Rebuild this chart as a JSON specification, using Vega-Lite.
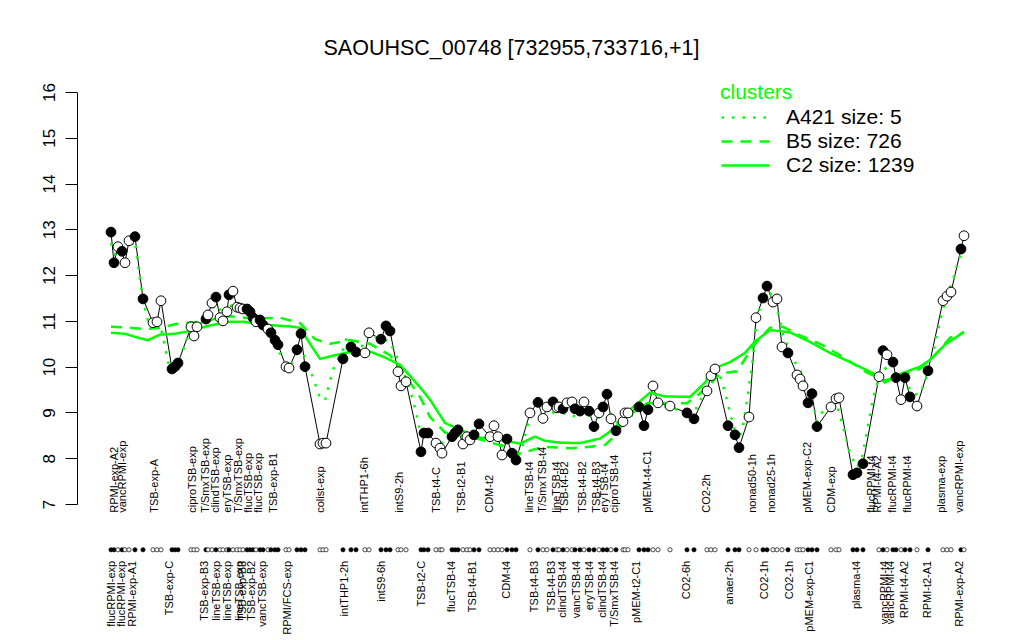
{
"$schema":"https://vega.github.io/schema/vega-lite/v6.json",
"width":921,"height":412,
"autosize":{"type":"none"},
"padding":{"left":77,"top":92,"right":26,"bottom":136},
"background":"white",
"config":{"view":{"stroke":null},"font":"Liberation Sans"},
"title":{"text":"SAOUHSC_00748 [732955,733716,+1]","fontSize":21.5,"fontWeight":"normal","font":"Liberation Sans","color":"black","anchor":"middle","dx":-26,"offset":23},
"datasets":{
"samples":[
{"p":111,"v":12.94,"f":1},{"p":114,"v":12.27,"f":1},{"p":118,"v":12.62,"f":0},{"p":122,"v":12.52,"f":1},{"p":125,"v":12.27,"f":0},{"p":129,"v":12.75,"f":0},{"p":135,"v":12.84,"f":1},{"p":143,"v":11.48,"f":1},
{"p":153,"v":10.96,"f":0},{"p":157,"v":10.98,"f":0},{"p":161,"v":11.44,"f":0},
{"p":172,"v":9.95,"f":1},{"p":175,"v":10.0,"f":1},{"p":178,"v":10.08,"f":1},
{"p":191,"v":10.87,"f":0},{"p":194,"v":10.67,"f":0},{"p":197,"v":10.87,"f":0},
{"p":206,"v":11.04,"f":1},{"p":208,"v":11.13,"f":0},{"p":212,"v":11.39,"f":0},{"p":216,"v":11.52,"f":1},{"p":220,"v":11.07,"f":0},{"p":223,"v":11.0,"f":0},{"p":227,"v":11.2,"f":0},{"p":229,"v":11.57,"f":1},{"p":233,"v":11.65,"f":0},{"p":237,"v":11.3,"f":0},{"p":240,"v":11.28,"f":0},{"p":243,"v":11.26,"f":0},{"p":247,"v":11.26,"f":1},{"p":250,"v":11.2,"f":1},{"p":253,"v":11.07,"f":1},{"p":256,"v":10.98,"f":0},{"p":260,"v":11.02,"f":1},{"p":263,"v":10.91,"f":1},{"p":268,"v":10.82,"f":0},{"p":271,"v":10.74,"f":1},{"p":275,"v":10.58,"f":1},{"p":278,"v":10.48,"f":1},{"p":286,"v":10.0,"f":0},{"p":289,"v":9.97,"f":0},
{"p":297,"v":10.37,"f":1},{"p":301,"v":10.72,"f":1},{"p":305,"v":10.0,"f":1},
{"p":320,"v":8.31,"f":0},{"p":323,"v":8.33,"f":0},{"p":326,"v":8.33,"f":0},
{"p":343,"v":10.17,"f":1},{"p":351,"v":10.43,"f":1},{"p":356,"v":10.32,"f":1},
{"p":365,"v":10.3,"f":0},{"p":369,"v":10.74,"f":0},
{"p":381,"v":10.6,"f":1},{"p":386,"v":10.89,"f":1},{"p":390,"v":10.78,"f":1},
{"p":398,"v":9.89,"f":0},{"p":401,"v":9.58,"f":0},{"p":406,"v":9.67,"f":0},
{"p":421,"v":8.14,"f":1},{"p":424,"v":8.55,"f":1},{"p":428,"v":8.55,"f":1},
{"p":436,"v":8.33,"f":0},{"p":440,"v":8.22,"f":0},{"p":442,"v":8.11,"f":0},
{"p":452,"v":8.47,"f":1},{"p":455,"v":8.55,"f":1},{"p":458,"v":8.62,"f":1},{"p":463,"v":8.31,"f":0},{"p":467,"v":8.47,"f":0},{"p":470,"v":8.4,"f":0},{"p":474,"v":8.51,"f":1},{"p":479,"v":8.75,"f":1},
{"p":490,"v":8.47,"f":0},{"p":494,"v":8.71,"f":0},{"p":498,"v":8.47,"f":0},{"p":502,"v":8.07,"f":0},{"p":507,"v":8.42,"f":1},{"p":512,"v":8.11,"f":1},{"p":516,"v":7.96,"f":1},
{"p":530,"v":8.99,"f":0},{"p":538,"v":9.22,"f":1},{"p":543,"v":8.87,"f":0},{"p":547,"v":9.12,"f":0},{"p":553,"v":9.23,"f":1},{"p":557,"v":9.1,"f":0},{"p":559,"v":9.12,"f":0},{"p":563,"v":9.08,"f":1},{"p":567,"v":9.21,"f":0},{"p":572,"v":9.23,"f":0},{"p":575,"v":9.08,"f":1},{"p":580,"v":9.03,"f":1},{"p":584,"v":9.23,"f":0},{"p":589,"v":9.03,"f":1},{"p":594,"v":8.69,"f":1},{"p":599,"v":8.99,"f":0},{"p":603,"v":9.12,"f":1},{"p":607,"v":9.4,"f":1},{"p":611,"v":8.86,"f":0},{"p":616,"v":8.6,"f":1},{"p":623,"v":8.8,"f":0},{"p":625,"v":8.99,"f":0},{"p":628,"v":8.99,"f":0},
{"p":639,"v":9.12,"f":1},{"p":644,"v":8.71,"f":1},{"p":648,"v":9.06,"f":1},{"p":653,"v":9.58,"f":0},{"p":658,"v":9.21,"f":0},
{"p":670,"v":9.14,"f":0},
{"p":687,"v":8.99,"f":1},{"p":694,"v":8.86,"f":1},
{"p":707,"v":9.47,"f":0},{"p":711,"v":9.8,"f":0},{"p":715,"v":9.95,"f":0},
{"p":728,"v":8.71,"f":1},{"p":735,"v":8.51,"f":1},{"p":739,"v":8.23,"f":1},
{"p":749,"v":8.9,"f":0},{"p":756,"v":11.07,"f":0},{"p":763,"v":11.5,"f":1},{"p":767,"v":11.76,"f":1},{"p":773,"v":11.41,"f":0},{"p":777,"v":11.48,"f":0},{"p":782,"v":10.43,"f":0},{"p":788,"v":10.3,"f":1},
{"p":797,"v":9.82,"f":0},{"p":800,"v":9.73,"f":0},{"p":803,"v":9.58,"f":0},{"p":808,"v":9.21,"f":1},{"p":812,"v":9.41,"f":1},{"p":817,"v":8.69,"f":1},
{"p":831,"v":9.12,"f":0},{"p":836,"v":9.3,"f":0},{"p":839,"v":9.32,"f":0},
{"p":853,"v":7.64,"f":1},{"p":857,"v":7.68,"f":1},{"p":863,"v":7.88,"f":1},
{"p":879,"v":9.78,"f":0},{"p":883,"v":10.35,"f":1},{"p":887,"v":10.26,"f":0},{"p":893,"v":10.1,"f":1},{"p":896,"v":9.76,"f":1},{"p":901,"v":9.28,"f":0},{"p":905,"v":9.76,"f":1},{"p":910,"v":9.34,"f":1},{"p":917,"v":9.14,"f":0},
{"p":928,"v":9.91,"f":1},
{"p":943,"v":11.44,"f":0},{"p":947,"v":11.54,"f":0},{"p":951,"v":11.63,"f":0},
{"p":961,"v":12.57,"f":1},{"p":964,"v":12.86,"f":0}
],
"labels":[
{"p":115,"t":"RPMI-exp-A2","s":"top"},{"p":123,"t":"vancRPMI-exp","s":"top"},{"p":155,"t":"TSB-exp-A","s":"top"},{"p":193,"t":"ciproTSB-exp","s":"top"},{"p":206,"t":"T/SmxTSB-exp","s":"top"},{"p":216,"t":"clindTSB-exp","s":"top"},{"p":228,"t":"eryTSB-exp","s":"top"},{"p":239,"t":"T/SmxTSB-exp","s":"top"},{"p":249,"t":"flucTSB-exp","s":"top"},{"p":259,"t":"flucTSB-exp","s":"top"},{"p":274,"t":"TSB-exp-B1","s":"top"},{"p":321,"t":"colist-exp","s":"top"},{"p":365,"t":"intTHP1-6h","s":"top"},{"p":400,"t":"intS9-2h","s":"top"},{"p":437,"t":"TSB-t4-C","s":"top"},{"p":462,"t":"TSB-t2-B1","s":"top"},{"p":490,"t":"CDM-t2","s":"top"},{"p":530,"t":"lineTSB-t4","s":"top"},{"p":543,"t":"T/SmxTSB-t4","s":"top"},{"p":557,"t":"lineTSB-t4","s":"top"},{"p":565,"t":"TSB-t4-B2","s":"top"},{"p":583,"t":"TSB-t4-B2","s":"top"},{"p":597,"t":"TSB-t4-B3","s":"top"},{"p":605,"t":"eryTSB-t4","s":"top"},{"p":615,"t":"ciproTSB-t4","s":"top"},{"p":648,"t":"pMEM-t4-C1","s":"top"},{"p":707,"t":"CO2-2h","s":"top"},{"p":753,"t":"nonad50-1h","s":"top"},{"p":772,"t":"nonad25-1h","s":"top"},{"p":808,"t":"pMEM-exp-C2","s":"top"},{"p":832,"t":"CDM-exp","s":"top"},{"p":872,"t":"flucRPMI-t4","s":"top"},{"p":878,"t":"RPMI-t4-A2","s":"top"},{"p":893,"t":"flucRPMI-t4","s":"top"},{"p":908,"t":"flucRPMI-t4","s":"top"},{"p":942,"t":"plasma-exp","s":"top"},{"p":960,"t":"vancRPMI-exp","s":"top"},
{"p":112,"t":"flucRPMI-exp","s":"bottom"},{"p":122,"t":"flucRPMI-exp","s":"bottom"},{"p":133,"t":"RPMI-exp-A1","s":"bottom"},{"p":170,"t":"TSB-exp-C","s":"bottom"},{"p":205,"t":"TSB-exp-B3","s":"bottom"},{"p":217,"t":"lineTSB-exp","s":"bottom"},{"p":228,"t":"lineTSB-exp","s":"bottom"},{"p":240,"t":"lineTSB-exp","s":"bottom"},{"p":243,"t":"TSB-exp-B3","s":"bottom"},{"p":252,"t":"TSB-exp-B2","s":"bottom"},{"p":263,"t":"vancTSB-exp","s":"bottom"},{"p":288,"t":"RPMI/FCS-exp","s":"bottom"},{"p":345,"t":"intTHP1-2h","s":"bottom"},{"p":382,"t":"intS9-6h","s":"bottom"},{"p":422,"t":"TSB-t2-C","s":"bottom"},{"p":452,"t":"flucTSB-t4","s":"bottom"},{"p":473,"t":"TSB-t4-B1","s":"bottom"},{"p":507,"t":"CDM-t4","s":"bottom"},{"p":535,"t":"TSB-t4-B3","s":"bottom"},{"p":552,"t":"TSB-t4-B3","s":"bottom"},{"p":563,"t":"clindTSB-t4","s":"bottom"},{"p":577,"t":"vancTSB-t4","s":"bottom"},{"p":590,"t":"eryTSB-t4","s":"bottom"},{"p":603,"t":"clindTSB-t4","s":"bottom"},{"p":615,"t":"T/SmxTSB-t4","s":"bottom"},{"p":637,"t":"pMEM-t2-C1","s":"bottom"},{"p":687,"t":"CO2-6h","s":"bottom"},{"p":730,"t":"anaer-2h","s":"bottom"},{"p":765,"t":"CO2-1h","s":"bottom"},{"p":790,"t":"CO2-1h","s":"bottom"},{"p":810,"t":"pMEM-exp-C1","s":"bottom"},{"p":857,"t":"plasma-t4","s":"bottom"},{"p":885,"t":"vancRPMI-t4","s":"bottom"},{"p":891,"t":"vancRPMI-t4","s":"bottom"},{"p":905,"t":"RPMI-t4-A2","s":"bottom"},{"p":928,"t":"RPMI-t2-A1","s":"bottom"},{"p":960,"t":"RPMI-exp-A2","s":"bottom"}
],
"clusters":[
{"c":"A421 size: 5","p":111,"v":12.7},{"c":"A421 size: 5","p":115,"v":12.45},{"c":"A421 size: 5","p":122,"v":12.55},{"c":"A421 size: 5","p":129,"v":12.6},{"c":"A421 size: 5","p":135,"v":12.75},{"c":"A421 size: 5","p":140,"v":11.9},{"c":"A421 size: 5","p":143,"v":11.45},{"c":"A421 size: 5","p":148,"v":11.0},{"c":"A421 size: 5","p":153,"v":10.95},{"c":"A421 size: 5","p":157,"v":10.95},{"c":"A421 size: 5","p":162,"v":10.75},{"c":"A421 size: 5","p":168,"v":10.1},{"c":"A421 size: 5","p":172,"v":9.95},{"c":"A421 size: 5","p":178,"v":10.05},{"c":"A421 size: 5","p":182,"v":10.3},{"c":"A421 size: 5","p":187,"v":10.6},{"c":"A421 size: 5","p":192,"v":10.8},{"c":"A421 size: 5","p":197,"v":10.85},{"c":"A421 size: 5","p":203,"v":11.0},{"c":"A421 size: 5","p":208,"v":11.1},{"c":"A421 size: 5","p":213,"v":11.3},{"c":"A421 size: 5","p":218,"v":11.35},{"c":"A421 size: 5","p":223,"v":11.1},{"c":"A421 size: 5","p":228,"v":11.3},{"c":"A421 size: 5","p":233,"v":11.35},{"c":"A421 size: 5","p":240,"v":11.25},{"c":"A421 size: 5","p":247,"v":11.2},{"c":"A421 size: 5","p":253,"v":11.05},{"c":"A421 size: 5","p":260,"v":11.0},{"c":"A421 size: 5","p":268,"v":10.85},{"c":"A421 size: 5","p":275,"v":10.6},{"c":"A421 size: 5","p":283,"v":10.1},{"c":"A421 size: 5","p":290,"v":10.0},{"c":"A421 size: 5","p":297,"v":10.3},{"c":"A421 size: 5","p":303,"v":10.3},{"c":"A421 size: 5","p":309,"v":10.0},{"c":"A421 size: 5","p":313,"v":9.76},{"c":"A421 size: 5","p":320,"v":9.32},{"c":"A421 size: 5","p":325,"v":9.26},{"c":"A421 size: 5","p":330,"v":9.69},{"c":"A421 size: 5","p":335,"v":10.06},{"c":"A421 size: 5","p":342,"v":10.3},{"c":"A421 size: 5","p":347,"v":10.65},{"c":"A421 size: 5","p":355,"v":10.5},{"c":"A421 size: 5","p":362,"v":10.45},{"c":"A421 size: 5","p":368,"v":10.7},{"c":"A421 size: 5","p":375,"v":10.65},{"c":"A421 size: 5","p":382,"v":10.6},{"c":"A421 size: 5","p":390,"v":10.55},{"c":"A421 size: 5","p":397,"v":10.2},{"c":"A421 size: 5","p":404,"v":9.85},{"c":"A421 size: 5","p":410,"v":9.5},{"c":"A421 size: 5","p":415,"v":9.1},{"c":"A421 size: 5","p":420,"v":8.6},{"c":"A421 size: 5","p":427,"v":8.45},{"c":"A421 size: 5","p":434,"v":8.35},{"c":"A421 size: 5","p":440,"v":8.3},{"c":"A421 size: 5","p":446,"v":8.4},{"c":"A421 size: 5","p":452,"v":8.55},{"c":"A421 size: 5","p":458,"v":8.55},{"c":"A421 size: 5","p":462,"v":8.5},{"c":"A421 size: 5","p":468,"v":8.45},{"c":"A421 size: 5","p":473,"v":8.45},{"c":"A421 size: 5","p":480,"v":8.55},{"c":"A421 size: 5","p":487,"v":8.45},{"c":"A421 size: 5","p":494,"v":8.5},{"c":"A421 size: 5","p":500,"v":8.3},{"c":"A421 size: 5","p":507,"v":8.25},{"c":"A421 size: 5","p":513,"v":8.1},{"c":"A421 size: 5","p":518,"v":8.05},{"c":"A421 size: 5","p":522,"v":8.2},{"c":"A421 size: 5","p":527,"v":8.7},{"c":"A421 size: 5","p":533,"v":8.95},{"c":"A421 size: 5","p":540,"v":9.0},{"c":"A421 size: 5","p":545,"v":8.8},{"c":"A421 size: 5","p":552,"v":9.0},{"c":"A421 size: 5","p":560,"v":9.0},{"c":"A421 size: 5","p":570,"v":8.95},{"c":"A421 size: 5","p":577,"v":8.9},{"c":"A421 size: 5","p":585,"v":9.05},{"c":"A421 size: 5","p":592,"v":8.85},{"c":"A421 size: 5","p":600,"v":8.9},{"c":"A421 size: 5","p":607,"v":9.1},{"c":"A421 size: 5","p":613,"v":8.9},{"c":"A421 size: 5","p":620,"v":8.7},{"c":"A421 size: 5","p":625,"v":8.85},{"c":"A421 size: 5","p":630,"v":8.9},{"c":"A421 size: 5","p":636,"v":9.0},{"c":"A421 size: 5","p":642,"v":9.1},{"c":"A421 size: 5","p":648,"v":9.2},{"c":"A421 size: 5","p":655,"v":9.3},{"c":"A421 size: 5","p":663,"v":9.15},{"c":"A421 size: 5","p":670,"v":9.1},{"c":"A421 size: 5","p":680,"v":9.05},{"c":"A421 size: 5","p":690,"v":9.05},{"c":"A421 size: 5","p":697,"v":9.1},{"c":"A421 size: 5","p":700,"v":9.2},{"c":"A421 size: 5","p":705,"v":9.65},{"c":"A421 size: 5","p":710,"v":9.9},{"c":"A421 size: 5","p":715,"v":10.05},{"c":"A421 size: 5","p":720,"v":9.8},{"c":"A421 size: 5","p":723,"v":9.6},{"c":"A421 size: 5","p":730,"v":9.0},{"c":"A421 size: 5","p":735,"v":8.6},{"c":"A421 size: 5","p":740,"v":8.5},{"c":"A421 size: 5","p":743,"v":8.7},{"c":"A421 size: 5","p":748,"v":9.4},{"c":"A421 size: 5","p":753,"v":10.2},{"c":"A421 size: 5","p":757,"v":11.1},{"c":"A421 size: 5","p":763,"v":11.45},{"c":"A421 size: 5","p":770,"v":11.6},{"c":"A421 size: 5","p":775,"v":11.45},{"c":"A421 size: 5","p":780,"v":11.0},{"c":"A421 size: 5","p":783,"v":10.7},{"c":"A421 size: 5","p":789,"v":10.4},{"c":"A421 size: 5","p":795,"v":10.1},{"c":"A421 size: 5","p":802,"v":9.85},{"c":"A421 size: 5","p":808,"v":9.5},{"c":"A421 size: 5","p":812,"v":9.3},{"c":"A421 size: 5","p":817,"v":8.8},{"c":"A421 size: 5","p":822,"v":9.0},{"c":"A421 size: 5","p":830,"v":9.1},{"c":"A421 size: 5","p":837,"v":9.15},{"c":"A421 size: 5","p":843,"v":8.7},{"c":"A421 size: 5","p":850,"v":8.1},{"c":"A421 size: 5","p":857,"v":7.8},{"c":"A421 size: 5","p":862,"v":8.0},{"c":"A421 size: 5","p":867,"v":8.6},{"c":"A421 size: 5","p":873,"v":9.3},{"c":"A421 size: 5","p":878,"v":9.7},{"c":"A421 size: 5","p":884,"v":10.0},{"c":"A421 size: 5","p":890,"v":9.85},{"c":"A421 size: 5","p":895,"v":9.8},{"c":"A421 size: 5","p":900,"v":9.75},{"c":"A421 size: 5","p":907,"v":9.6},{"c":"A421 size: 5","p":913,"v":9.4},{"c":"A421 size: 5","p":920,"v":9.4},{"c":"A421 size: 5","p":927,"v":9.8},{"c":"A421 size: 5","p":934,"v":10.4},{"c":"A421 size: 5","p":940,"v":11.0},{"c":"A421 size: 5","p":946,"v":11.5},{"c":"A421 size: 5","p":953,"v":11.9},{"c":"A421 size: 5","p":958,"v":12.3},{"c":"A421 size: 5","p":964,"v":12.6},
{"c":"B5 size: 726","p":111,"v":10.87},{"c":"B5 size: 726","p":130,"v":10.85},{"c":"B5 size: 726","p":145,"v":10.82},{"c":"B5 size: 726","p":160,"v":10.85},{"c":"B5 size: 726","p":180,"v":10.95},{"c":"B5 size: 726","p":200,"v":10.98},{"c":"B5 size: 726","p":230,"v":11.1},{"c":"B5 size: 726","p":255,"v":11.05},{"c":"B5 size: 726","p":280,"v":11.07},{"c":"B5 size: 726","p":300,"v":10.95},{"c":"B5 size: 726","p":315,"v":10.6},{"c":"B5 size: 726","p":330,"v":10.5},{"c":"B5 size: 726","p":350,"v":10.58},{"c":"B5 size: 726","p":370,"v":10.5},{"c":"B5 size: 726","p":390,"v":10.25},{"c":"B5 size: 726","p":400,"v":9.97},{"c":"B5 size: 726","p":420,"v":9.34},{"c":"B5 size: 726","p":430,"v":8.9},{"c":"B5 size: 726","p":445,"v":8.56},{"c":"B5 size: 726","p":470,"v":8.47},{"c":"B5 size: 726","p":490,"v":8.35},{"c":"B5 size: 726","p":505,"v":8.25},{"c":"B5 size: 726","p":520,"v":8.1},{"c":"B5 size: 726","p":543,"v":8.25},{"c":"B5 size: 726","p":570,"v":8.22},{"c":"B5 size: 726","p":590,"v":8.25},{"c":"B5 size: 726","p":605,"v":8.29},{"c":"B5 size: 726","p":613,"v":8.45},{"c":"B5 size: 726","p":630,"v":8.95},{"c":"B5 size: 726","p":647,"v":9.2},{"c":"B5 size: 726","p":670,"v":9.2},{"c":"B5 size: 726","p":687,"v":9.2},{"c":"B5 size: 726","p":705,"v":9.5},{"c":"B5 size: 726","p":720,"v":9.85},{"c":"B5 size: 726","p":737,"v":9.9},{"c":"B5 size: 726","p":755,"v":10.5},{"c":"B5 size: 726","p":770,"v":10.85},{"c":"B5 size: 726","p":783,"v":10.87},{"c":"B5 size: 726","p":798,"v":10.7},{"c":"B5 size: 726","p":820,"v":10.5},{"c":"B5 size: 726","p":840,"v":10.25},{"c":"B5 size: 726","p":867,"v":9.87},{"c":"B5 size: 726","p":885,"v":9.7},{"c":"B5 size: 726","p":900,"v":9.8},{"c":"B5 size: 726","p":920,"v":9.95},{"c":"B5 size: 726","p":935,"v":10.25},{"c":"B5 size: 726","p":950,"v":10.63},{"c":"B5 size: 726","p":964,"v":10.75},
{"c":"C2 size: 1239","p":111,"v":10.74},{"c":"C2 size: 1239","p":125,"v":10.72},{"c":"C2 size: 1239","p":140,"v":10.62},{"c":"C2 size: 1239","p":148,"v":10.58},{"c":"C2 size: 1239","p":160,"v":10.7},{"c":"C2 size: 1239","p":175,"v":10.72},{"c":"C2 size: 1239","p":190,"v":10.78},{"c":"C2 size: 1239","p":210,"v":10.9},{"c":"C2 size: 1239","p":230,"v":10.98},{"c":"C2 size: 1239","p":245,"v":10.98},{"c":"C2 size: 1239","p":260,"v":10.92},{"c":"C2 size: 1239","p":275,"v":10.9},{"c":"C2 size: 1239","p":290,"v":10.88},{"c":"C2 size: 1239","p":300,"v":10.85},{"c":"C2 size: 1239","p":310,"v":10.5},{"c":"C2 size: 1239","p":320,"v":10.17},{"c":"C2 size: 1239","p":335,"v":10.25},{"c":"C2 size: 1239","p":350,"v":10.32},{"c":"C2 size: 1239","p":370,"v":10.33},{"c":"C2 size: 1239","p":385,"v":10.2},{"c":"C2 size: 1239","p":400,"v":10.04},{"c":"C2 size: 1239","p":410,"v":9.8},{"c":"C2 size: 1239","p":420,"v":9.55},{"c":"C2 size: 1239","p":430,"v":9.28},{"c":"C2 size: 1239","p":445,"v":8.77},{"c":"C2 size: 1239","p":460,"v":8.62},{"c":"C2 size: 1239","p":480,"v":8.45},{"c":"C2 size: 1239","p":500,"v":8.4},{"c":"C2 size: 1239","p":520,"v":8.32},{"c":"C2 size: 1239","p":535,"v":8.47},{"c":"C2 size: 1239","p":545,"v":8.38},{"c":"C2 size: 1239","p":560,"v":8.34},{"c":"C2 size: 1239","p":580,"v":8.33},{"c":"C2 size: 1239","p":600,"v":8.43},{"c":"C2 size: 1239","p":615,"v":8.66},{"c":"C2 size: 1239","p":630,"v":9.06},{"c":"C2 size: 1239","p":650,"v":9.43},{"c":"C2 size: 1239","p":665,"v":9.35},{"c":"C2 size: 1239","p":690,"v":9.34},{"c":"C2 size: 1239","p":705,"v":9.65},{"c":"C2 size: 1239","p":715,"v":9.97},{"c":"C2 size: 1239","p":730,"v":10.1},{"c":"C2 size: 1239","p":745,"v":10.3},{"c":"C2 size: 1239","p":755,"v":10.55},{"c":"C2 size: 1239","p":770,"v":10.8},{"c":"C2 size: 1239","p":790,"v":10.75},{"c":"C2 size: 1239","p":810,"v":10.54},{"c":"C2 size: 1239","p":830,"v":10.3},{"c":"C2 size: 1239","p":850,"v":10.1},{"c":"C2 size: 1239","p":870,"v":9.89},{"c":"C2 size: 1239","p":880,"v":9.78},{"c":"C2 size: 1239","p":885,"v":9.65},{"c":"C2 size: 1239","p":900,"v":9.84},{"c":"C2 size: 1239","p":920,"v":10.0},{"c":"C2 size: 1239","p":930,"v":10.15},{"c":"C2 size: 1239","p":945,"v":10.48},{"c":"C2 size: 1239","p":960,"v":10.7},{"c":"C2 size: 1239","p":964,"v":10.76}
]
},
"layer":[
{"data":{"name":"samples"},"mark":{"type":"line","color":"black","strokeWidth":1},
 "encoding":{
  "x":{"field":"p","type":"quantitative","scale":{"domain":[77,998],"nice":false,"zero":false},"axis":null},
  "y":{"field":"v","type":"quantitative","scale":{"domain":[7,16],"nice":false,"zero":false},
   "axis":{"values":[7,8,9,10,11,12,13,14,15,16],"grid":false,"title":null,"domainColor":"black","domainWidth":1,"tickColor":"black","tickWidth":1,"tickSize":12,"labelAngle":270,"labelAlign":"center","labelBaseline":"bottom","labelPadding":7,"labelFontSize":17,"labelColor":"black","labelFont":"Liberation Sans","labelFlush":false,"labelOverlap":false}}}},
{"data":{"name":"clusters"},"mark":{"type":"line","color":"#00ff00","strokeWidth":2.5},
 "encoding":{
  "x":{"field":"p","type":"quantitative"},
  "y":{"field":"v","type":"quantitative"},
  "detail":{"field":"c"},
  "strokeDash":{"field":"c","type":"nominal","scale":{"domain":["A421 size: 5","B5 size: 726","C2 size: 1239"],"range":[[2.5,8],[11,8],[1,0]]},
   "legend":{"orient":"none","legendX":643,"legendY":-10,"title":"clusters","titleColor":"#00ff00","titleFontSize":21,"titleFontWeight":"normal","titleFont":"Liberation Sans","labelFontSize":21,"labelFont":"Liberation Sans","labelColor":"black","symbolType":"stroke","symbolStrokeColor":"#00ff00","symbolStrokeWidth":2.5,"symbolSize":2304,"clipHeight":21,"labelOffset":15,"rowPadding":2,"titlePadding":4,"padding":0}}}},
{"data":{"name":"samples"},"mark":{"type":"circle","size":95,"stroke":"black","strokeWidth":1,"opacity":1},
 "encoding":{
  "x":{"field":"p","type":"quantitative"},
  "y":{"field":"v","type":"quantitative"},
  "fill":{"field":"f","type":"nominal","scale":{"domain":[0,1],"range":["white","black"]},"legend":null}}},
{"data":{"name":"samples"},"mark":{"type":"circle","size":18,"stroke":"black","strokeWidth":0.7,"opacity":1},
 "encoding":{
  "x":{"field":"p","type":"quantitative"},
  "y":{"datum":6},
  "fill":{"field":"f","type":"nominal","scale":{"domain":[0,1],"range":["white","black"]},"legend":null}}},
{"data":{"name":"labels"},"transform":[{"filter":"datum.s === 'top'"}],"mark":{"type":"text","angle":270,"align":"left","baseline":"middle","dx":37,"fontSize":11,"font":"Liberation Sans","color":"black"},
 "encoding":{
  "x":{"field":"p","type":"quantitative"},
  "y":{"datum":6},
  "text":{"field":"t"}}},
{"data":{"name":"labels"},"transform":[{"filter":"datum.s === 'bottom'"}],"mark":{"type":"text","angle":270,"align":"right","baseline":"middle","dx":-11,"fontSize":11,"font":"Liberation Sans","color":"black"},
 "encoding":{
  "x":{"field":"p","type":"quantitative"},
  "y":{"datum":6},
  "text":{"field":"t"}}}
]
}
